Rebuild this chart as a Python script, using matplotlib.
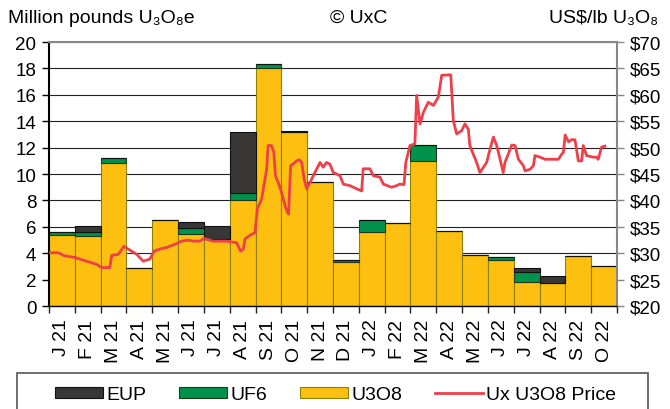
import numpy as np
import matplotlib.pyplot as plt
from matplotlib.patches import Rectangle

plt.rcParams['font.family'] = ['Liberation Sans', 'DejaVu Sans']

months = ['J 21', 'F 21', 'M 21', 'A 21', 'M 21', 'J 21', 'J 21', 'A 21', 'S 21', 'O 21',
          'N 21', 'D 21', 'J 22', 'F 22', 'M 22', 'A 22', 'M 22', 'J 22', 'J 22', 'A 22',
          'S 22', 'O 22']
u3o8 = [5.4, 5.3, 10.85, 2.85, 6.55, 5.45, 5.05, 8.0, 18.0, 13.2,
        9.4, 3.35, 5.6, 6.3, 11.0, 5.65, 3.85, 3.47, 1.85, 1.77, 3.8, 3.0]
uf6 = [0.2, 0.3, 0.35, 0, 0, 0.45, 0, 0.6, 0.35, 0,
       0, 0.15, 0.95, 0, 1.2, 0, 0, 0.23, 0.7, 0, 0, 0]
eup = [0, 0.45, 0, 0, 0, 0.5, 1.0, 4.55, 0, 0.05,
       0, 0, 0, 0, 0, 0, 0, 0, 0.3, 0.48, 0, 0]

# price series: time in months since 1 Jan 2021, price in US$/lb
price_t = [0.01, 0.36, 0.62, 1.01, 1.46, 1.85, 2.04, 2.36, 2.43, 2.69, 2.90, 3.07,
           3.40, 3.65, 3.91, 4.07, 4.30, 4.56, 4.88, 5.14, 5.40, 5.59, 5.85, 6.00,
           6.36, 6.88, 7.27, 7.42, 7.53, 7.59, 7.78, 7.98, 8.07, 8.24, 8.37, 8.43,
           8.49, 8.62, 8.71, 8.77, 8.88, 9.01, 9.18, 9.28, 9.36, 9.46, 9.59, 9.70,
           9.79, 9.88, 9.98, 10.11, 10.30, 10.50, 10.62, 10.75, 10.88, 11.01, 11.27,
           11.40, 11.66, 11.92, 12.11, 12.17, 12.43, 12.56, 12.82, 12.95, 13.27,
           13.46, 13.59, 13.75, 13.82, 13.98, 14.17, 14.24, 14.37, 14.50, 14.69,
           14.89, 15.08, 15.21, 15.56, 15.66, 15.79, 15.98, 16.11, 16.24, 16.30,
           16.56, 16.69, 16.95, 17.08, 17.21, 17.34, 17.47, 17.59, 17.66, 17.79,
           17.92, 18.05, 18.18, 18.37, 18.44, 18.63, 18.76, 18.82, 19.02, 19.21,
           19.73, 19.86, 19.92, 19.99, 20.12, 20.24, 20.37, 20.50, 20.63, 20.69,
           20.82, 21.08, 21.21, 21.27, 21.40, 21.53]
price = [30.1, 30.1, 29.5, 29.2, 28.5, 27.9, 27.3, 27.3, 29.6, 29.8, 31.3, 30.8,
         29.8, 28.5, 28.9, 30.4, 30.8, 31.1, 31.7, 32.3, 32.5, 32.3, 32.3, 32.8,
         32.3, 32.3, 32.0, 30.4, 30.8, 32.7, 33.4, 33.9, 38.4, 40.3, 44.1, 45.9,
         50.4, 50.4, 49.1, 44.7, 43.4, 41.5, 38.4, 37.4, 46.6, 46.9, 47.5, 47.7,
         47.2, 44.1, 42.2, 43.4, 45.3, 47.2, 46.3, 47.2, 46.9, 45.3, 44.7,
         43.1, 42.8, 42.2, 41.8, 46.0, 46.0, 44.7, 44.4, 43.1, 42.5,
         42.8, 43.1, 43.0, 47.2, 50.4, 50.7, 59.9, 54.5, 56.7, 58.6,
         58.0, 59.6, 63.7, 63.8, 55.1, 52.6, 53.2, 54.5, 53.5, 50.4,
         47.2, 45.3, 47.2, 49.7, 52.0, 50.4, 47.8, 45.3, 47.2, 48.8,
         50.5, 50.4, 47.8, 46.6, 45.6, 45.9, 46.6, 48.5, 48.2, 47.8,
         47.8, 48.8, 49.1, 52.4, 51.1, 51.5, 51.5, 47.5, 47.5, 50.4,
         48.5, 48.2, 48.2, 47.8, 50.1, 50.3]

YEL = '#FDC010'
GRN = '#00924A'
DRK = '#393735'
RED = '#EE3F4A'

fig = plt.figure(figsize=(6.7, 4.1), dpi=100)
ax = fig.add_axes([0.073, 0.251, 0.848, 0.644])

x = np.arange(len(months))
u3o8 = np.array(u3o8)
uf6 = np.array(uf6)
eup = np.array(eup)

ax.bar(x, u3o8, width=1.0, color=YEL, edgecolor='#8C8200', linewidth=0.8, zorder=2, label='U3O8')
ax.bar(x, uf6, width=1.0, bottom=u3o8, color=GRN, edgecolor='#1E3A1E', linewidth=0.8, zorder=2, label='UF6')
ax.bar(x, eup, width=1.0, bottom=u3o8 + uf6, color=DRK, edgecolor='#111111', linewidth=0.8, zorder=2, label='EUP')

ax.set_xlim(-0.5, len(months) - 0.5)
ax.set_ylim(0, 20)
ax.set_yticks(range(0, 21, 2))
ax.grid(axis='y', color='#222222', linewidth=0.8, zorder=0)
ax.set_axisbelow(True)
ax.set_xticks(x)
ax.set_xticklabels(months, rotation=90, fontsize=14)
ax.set_xticks(np.arange(-0.5, len(months)), minor=True)
ax.tick_params(axis='x', which='major', length=0, pad=9)
ax.tick_params(axis='x', which='minor', length=5, width=1, color='#222222')
ax.tick_params(axis='y', labelsize=13.5, length=5, width=1, pad=4)
for s in ['top', 'right']:
    ax.spines[s].set_color('#888888')
    ax.spines[s].set_linewidth(1.5)
ax.spines['left'].set_linewidth(1.5)
ax.spines['bottom'].set_linewidth(1.0)

ax2 = ax.twinx()
ax2.plot(np.array(price_t) - 0.5, price, color=RED, linewidth=2, zorder=3, label='Ux U3O8 Price')
ax2.set_ylim(20, 70)
ax2.set_yticks(range(20, 71, 5))
ax2.set_yticklabels(['$%d' % v for v in range(20, 71, 5)])
ax2.tick_params(axis='y', labelsize=13.5, length=5, width=1, color='#888888', pad=4)
for s in ax2.spines.values():
    s.set_visible(False)

fig.text(0.012, 0.956, 'Million pounds U₃O₈e', fontsize=14, va='center')
fig.text(0.535, 0.956, '© UxC', fontsize=14, va='center', ha='center')
fig.text(0.982, 0.956, 'US$/lb U₃O₈', fontsize=14, va='center', ha='right')

# legend frame (runs off the bottom edge like the original)
fig.patches.append(Rectangle((17 / 670, -0.05), 631 / 670, 0.05 + 36 / 410,
                             transform=fig.transFigure, fill=False,
                             edgecolor='#555555', linewidth=1.2))

h1, l1 = ax.get_legend_handles_labels()
h2, l2 = ax2.get_legend_handles_labels()
handles = [h1[2], h1[1], h1[0], h2[0]]
labels = [l1[2], l1[1], l1[0], l2[0]]
fig.legend(handles, labels, loc='center', bbox_to_anchor=(0.501, 1 - 396 / 410), ncol=4,
           fontsize=14, frameon=False, handlelength=2.47, handleheight=0.55,
           handletextpad=0.15, columnspacing=1.7)

fig.savefig('out.png', dpi=100)
